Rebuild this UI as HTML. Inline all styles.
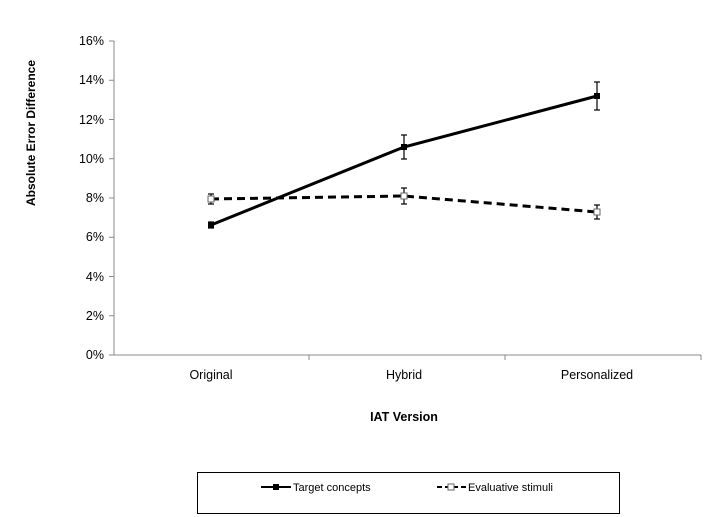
<!DOCTYPE html>
<html><head><style>body{margin:0;background:#fff}svg{display:block}text{font-family:"Liberation Sans",Arial,sans-serif}</style></head><body>
<svg width="712" height="517" viewBox="0 0 712 517">
<g stroke="#888" stroke-width="1" fill="none">
<line x1="114" y1="41" x2="114" y2="355"/>
<line x1="114" y1="355" x2="701" y2="355"/>
<g>
<line x1="109" y1="41" x2="114" y2="41"/><line x1="109" y1="80.25" x2="114" y2="80.25"/><line x1="109" y1="119.5" x2="114" y2="119.5"/><line x1="109" y1="158.75" x2="114" y2="158.75"/><line x1="109" y1="198" x2="114" y2="198"/><line x1="109" y1="237.25" x2="114" y2="237.25"/><line x1="109" y1="276.5" x2="114" y2="276.5"/><line x1="109" y1="315.75" x2="114" y2="315.75"/><line x1="109" y1="355" x2="114" y2="355"/>
<line x1="309" y1="355" x2="309" y2="360"/><line x1="505" y1="355" x2="505" y2="360"/><line x1="701" y1="355" x2="701" y2="360"/>
</g></g>
<g font-size="12.5" text-anchor="end" fill="#000">
<text x="104" y="45">16%</text><text x="104" y="84">14%</text><text x="104" y="124">12%</text><text x="104" y="163">10%</text><text x="104" y="202">8%</text><text x="104" y="241">6%</text><text x="104" y="281">4%</text><text x="104" y="320">2%</text><text x="104" y="359">0%</text>
</g>
<g font-size="12.5" text-anchor="middle">
<text x="211" y="379">Original</text><text x="404" y="379">Hybrid</text><text x="597" y="379">Personalized</text>
<text x="404" y="421" font-weight="bold">IAT Version</text>
<text transform="translate(35,133) rotate(-90)" font-weight="bold" font-size="12">Absolute Error Difference</text>
</g>
<g stroke="#000" stroke-width="1.2">
<line x1="211" y1="194" x2="211" y2="204"/><line x1="208" y1="194" x2="214" y2="194"/><line x1="208" y1="204" x2="214" y2="204"/>
<line x1="404" y1="188" x2="404" y2="204"/><line x1="401" y1="188" x2="407" y2="188"/><line x1="401" y1="204" x2="407" y2="204"/>
<line x1="597" y1="205" x2="597" y2="219"/><line x1="594" y1="205" x2="600" y2="205"/><line x1="594" y1="219" x2="600" y2="219"/>
<line x1="211" y1="222" x2="211" y2="228"/><line x1="208" y1="222" x2="214" y2="222"/><line x1="208" y1="228" x2="214" y2="228"/>
<line x1="404" y1="135" x2="404" y2="159"/><line x1="401" y1="135" x2="407" y2="135"/><line x1="401" y1="159" x2="407" y2="159"/>
<line x1="597" y1="82" x2="597" y2="110"/><line x1="594" y1="82" x2="600" y2="82"/><line x1="594" y1="110" x2="600" y2="110"/>
</g>
<polyline points="211,199 404,196 597,212" fill="none" stroke="#000" stroke-width="3" stroke-dasharray="8,5"/>
<polyline points="211,225 404,147 597,96" fill="none" stroke="#000" stroke-width="3"/>
<g fill="#fff" stroke="#666" stroke-width="1"><rect x="208" y="196" width="6" height="6"/><rect x="401" y="193" width="6" height="6"/><rect x="594" y="209" width="6" height="6"/></g>
<g fill="#000"><rect x="208" y="222" width="6" height="6"/><rect x="401" y="144" width="6" height="6"/><rect x="594" y="93" width="6" height="6"/></g>
<rect x="197.5" y="472.5" width="422" height="41" fill="none" stroke="#000" stroke-width="1"/>
<line x1="261" y1="487" x2="291" y2="487" stroke="#000" stroke-width="2"/><rect x="273" y="484" width="6" height="6"/>
<text x="293" y="491" font-size="11">Target concepts</text>
<line x1="437" y1="487" x2="466" y2="487" stroke="#000" stroke-width="2" stroke-dasharray="5,3"/><rect x="448" y="484" width="6" height="6" fill="#fff" stroke="#666"/>
<text x="468" y="491" font-size="11">Evaluative stimuli</text>
</svg>
</body></html>
